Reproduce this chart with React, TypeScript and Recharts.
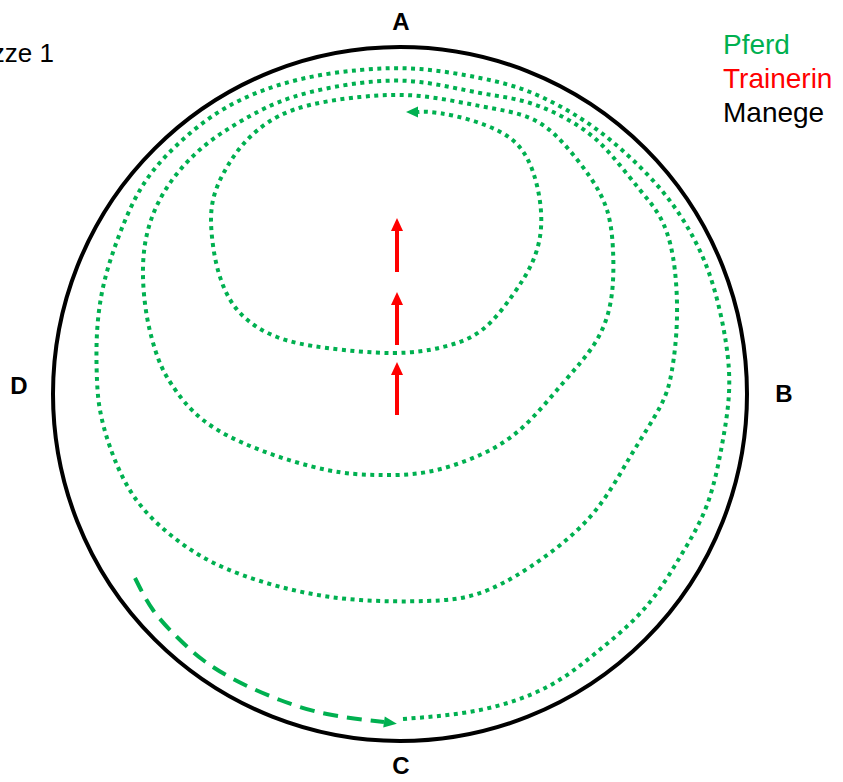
import React from "react";
import { ComposedChart, Line, ReferenceDot, XAxis, YAxis } from "recharts";

interface Punkt {
  x: number;
  y: number;
}

// Hufschlag des Pferdes (gepunktet): von C über B, A, D spiralförmig nach innen Richtung A
const pferdSpirale: Punkt[] = [
  { x: 403, y: 719 }, { x: 480, y: 710 }, { x: 547, y: 687 }, { x: 597, y: 652 },
  { x: 645, y: 608 }, { x: 680, y: 557 }, { x: 707, y: 505 }, { x: 722, y: 445 },
  { x: 729, y: 393 }, { x: 726, y: 343 }, { x: 713, y: 285 }, { x: 693, y: 237 },
  { x: 663, y: 192 }, { x: 622, y: 150 }, { x: 580, y: 118 }, { x: 530, y: 92 },
  { x: 480, y: 78 }, { x: 420, y: 69 }, { x: 360, y: 70 }, { x: 293, y: 81 },
  { x: 227, y: 107 }, { x: 177, y: 145 }, { x: 143, y: 185 }, { x: 120, y: 233 },
  { x: 104, y: 283 }, { x: 97, y: 333 }, { x: 97, y: 380 }, { x: 100, y: 410 },
  { x: 110, y: 447 }, { x: 135, y: 498 }, { x: 177, y: 540 }, { x: 227, y: 569 },
  { x: 293, y: 590 }, { x: 360, y: 600 }, { x: 427, y: 601 }, { x: 477, y: 594 },
  { x: 530, y: 567 }, { x: 590, y: 517 }, { x: 630, y: 457 }, { x: 660, y: 407 },
  { x: 672, y: 370 }, { x: 677, y: 317 }, { x: 673, y: 257 }, { x: 660, y: 217 },
  { x: 640, y: 190 }, { x: 613, y: 157 }, { x: 580, y: 127 }, { x: 530, y: 103 },
  { x: 480, y: 93 }, { x: 420, y: 82 }, { x: 360, y: 83 }, { x: 293, y: 97 },
  { x: 243, y: 120 }, { x: 203, y: 147 }, { x: 170, y: 183 }, { x: 150, y: 223 },
  { x: 143, y: 267 }, { x: 147, y: 317 }, { x: 158, y: 358 }, { x: 172, y: 385 },
  { x: 203, y: 420 }, { x: 260, y: 450 }, { x: 327, y: 470 }, { x: 377, y: 475 },
  { x: 427, y: 472 }, { x: 480, y: 455 }, { x: 523, y: 427 }, { x: 563, y: 383 },
  { x: 595, y: 343 }, { x: 611, y: 300 }, { x: 613, y: 250 }, { x: 607, y: 210 },
  { x: 590, y: 177 }, { x: 563, y: 143 }, { x: 530, y: 118 }, { x: 480, y: 106 },
  { x: 420, y: 96 }, { x: 360, y: 97 }, { x: 293, y: 110 }, { x: 250, y: 137 },
  { x: 227, y: 167 }, { x: 213, y: 200 }, { x: 212, y: 237 }, { x: 220, y: 277 },
  { x: 240, y: 313 }, { x: 277, y: 337 }, { x: 327, y: 348 }, { x: 393, y: 353 },
  { x: 443, y: 347 }, { x: 482, y: 330 }, { x: 512, y: 296 }, { x: 532, y: 263 },
  { x: 541, y: 228 }, { x: 538, y: 190 }, { x: 527, y: 158 }, { x: 510, y: 138 },
  { x: 485, y: 125 }, { x: 455, y: 116 }, { x: 430, y: 112 }, { x: 418, y: 112 },
];

// Anritt (gestrichelt) bis C
const pferdAnritt: Punkt[] = [
  { x: 135, y: 578 }, { x: 153, y: 610 }, { x: 177, y: 637 }, { x: 203, y: 660 },
  { x: 237, y: 681 }, { x: 280, y: 700 }, { x: 327, y: 714 }, { x: 384, y: 722 },
];

// Laufrichtung der Trainerin (von C nach A)
const trainerinPfeil1: Punkt[] = [{ x: 397, y: 272 }, { x: 397, y: 231 }];
const trainerinPfeil2: Punkt[] = [{ x: 397, y: 345 }, { x: 397, y: 305 }];
const trainerinPfeil3: Punkt[] = [{ x: 397, y: 415 }, { x: 397, y: 375 }];

// Manege: Mittelpunkt und Radius
const manegeMitte: Punkt = { x: 400, y: 394 };
const manegeRadius = 347;

// Bahnpunkte
const bahnpunkte = [
  { name: "A", x: 401, y: 30 },
  { name: "B", x: 784, y: 402 },
  { name: "C", x: 401, y: 774 },
  { name: "D", x: 19, y: 394 },
];

const legende = [
  { name: "Pferd", farbe: "#00B050", y: 54 },
  { name: "Trainerin", farbe: "#FF0000", y: 88 },
  { name: "Manege", farbe: "#000000", y: 122 },
];

const GRUEN = "#00B050";
const ROT = "#FF0000";
const SCHRIFT = "'Liberation Sans', Arial, Helvetica, sans-serif";

// Pfeilspitze am letzten Punkt einer Linie
function pfeilSpitze(daten: Punkt[], farbe: string, laenge: number, breite: number) {
  return (props: any) => {
    const { cx, cy, index } = props;
    if (index !== daten.length - 1) return <g key={index} />;
    const a = daten[index - 1];
    const b = daten[index];
    const dx = b.x - a.x;
    const dy = b.y - a.y;
    const n = Math.sqrt(dx * dx + dy * dy) || 1;
    const ux = dx / n;
    const uy = dy / n;
    const tipX = cx + ux * laenge;
    const tipY = cy + uy * laenge;
    const p1 = `${cx - uy * breite / 2},${cy + ux * breite / 2}`;
    const p2 = `${cx + uy * breite / 2},${cy - ux * breite / 2}`;
    return (
      <polygon
        key={index}
        points={`${tipX},${tipY} ${p1} ${p2}`}
        fill={farbe}
        stroke="none"
      />
    );
  };
}

export default function App() {
  return (
    <div
      style={{
        position: "absolute",
        left: 0,
        top: 0,
        width: 843,
        height: 782,
        background: "#fff",
      }}
    >
      <ComposedChart width={843} height={782} margin={{ top: 0, right: 0, bottom: 0, left: 0 }}>
        <XAxis type="number" dataKey="x" domain={[0, 843]} allowDataOverflow hide />
        <YAxis type="number" dataKey="y" domain={[0, 782]} allowDataOverflow reversed hide />

        <ReferenceDot
          x={manegeMitte.x}
          y={manegeMitte.y}
          r={manegeRadius}
          fill="none"
          stroke="#000"
          strokeWidth={4}
          ifOverflow="visible"
        />

        <Line
          data={pferdAnritt}
          dataKey="y"
          type="natural"
          stroke={GRUEN}
          strokeWidth={4}
          strokeDasharray="15 9"
          dot={pfeilSpitze(pferdAnritt, GRUEN, 13, 11)}
          activeDot={false}
          isAnimationActive={false}
        />
        <Line
          data={pferdSpirale}
          dataKey="y"
          type="natural"
          stroke={GRUEN}
          strokeWidth={4}
          strokeDasharray="4 4.5"
          dot={pfeilSpitze(pferdSpirale, GRUEN, 12, 11)}
          activeDot={false}
          isAnimationActive={false}
        />

        {[trainerinPfeil1, trainerinPfeil2, trainerinPfeil3].map((pfeil, i) => (
          <Line
            key={i}
            data={pfeil}
            dataKey="y"
            type="linear"
            stroke={ROT}
            strokeWidth={4}
            dot={pfeilSpitze(pfeil, ROT, 13, 12)}
            activeDot={false}
            isAnimationActive={false}
          />
        ))}

        {bahnpunkte.map((b) => (
          <ReferenceDot
            key={b.name}
            x={b.x}
            y={b.y}
            r={0}
            ifOverflow="visible"
            shape={(p: any) => (
              <text
                x={p.cx}
                y={p.cy}
                textAnchor="middle"
                fontFamily={SCHRIFT}
                fontWeight="bold"
                fontSize={24}
                fill="#000"
              >
                {b.name}
              </text>
            )}
          />
        ))}

        <ReferenceDot
          x={54}
          y={62}
          r={0}
          ifOverflow="visible"
          shape={(p: any) => (
            <text x={p.cx} y={p.cy} textAnchor="end" fontFamily={SCHRIFT} fontSize={26} fill="#000">
              Skizze 1
            </text>
          )}
        />

        {legende.map((l) => (
          <ReferenceDot
            key={l.name}
            x={723}
            y={l.y}
            r={0}
            ifOverflow="visible"
            shape={(p: any) => (
              <text x={p.cx} y={p.cy} textAnchor="start" fontFamily={SCHRIFT} fontSize={28} fill={l.farbe}>
                {l.name}
              </text>
            )}
          />
        ))}
      </ComposedChart>
    </div>
  );
}
